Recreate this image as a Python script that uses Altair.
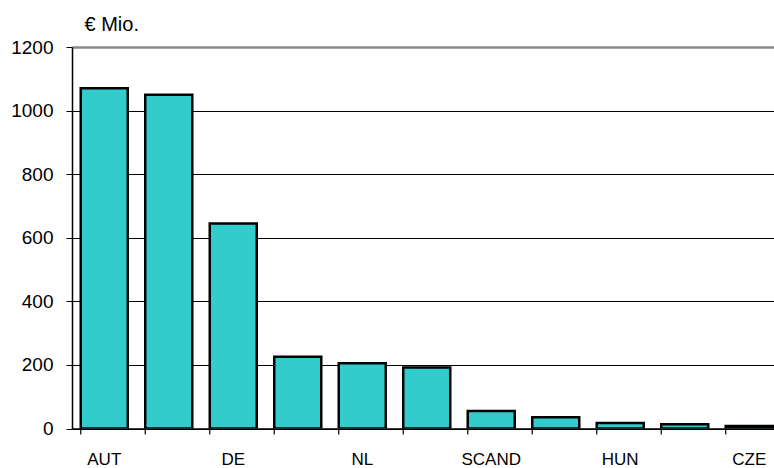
import json
import altair as alt
import pandas as pd

# Category labels as printed under the axis (every second slot is unlabeled)
labels = ["AUT", "", "DE", "", "NL", "", "SCAND", "", "HUN", "", "CZE"]
# Volumes in € million
values = [1070, 1050, 645, 226, 205, 192, 55, 35, 17, 13, 8]

df = pd.DataFrame({"pos": list(range(len(values))), "value": values})

FONT = "Liberation Sans"
W, H = 702, 381.5
STEP = 64.5
N = len(values)

x_scale = alt.Scale(
    range=[0, STEP * N],
    paddingInner=0.271,
    paddingOuter=0.1357,
)
label_expr = json.dumps(labels) + "[datum.value]"

bars = alt.Chart(df).mark_bar(
    fill="#33CCCC", stroke="black", strokeWidth=2.5, clip=True
).encode(
    x=alt.X(
        "pos:O",
        scale=x_scale,
        axis=alt.Axis(
            title=None,
            labelExpr=label_expr,
            labelAngle=0,
            labelFont=FONT,
            labelFontSize=17,
            labelColor="black",
            labelPadding=23,
            ticks=False,
            tickSize=0,
            domainColor="black",
            domainWidth=1.5,
            grid=False,
        ),
    ),
    y=alt.Y(
        "value:Q",
        scale=alt.Scale(domain=[0, 1200], nice=False),
        axis=alt.Axis(
            values=[0, 200, 400, 600, 800, 1000, 1200],
            format="d",
            title="€ Mio.",
            titleAngle=0,
            titleAlign="left",
            titleBaseline="alphabetic",
            titleX=12,
            titleY=-17,
            titleFont=FONT,
            titleFontSize=20,
            titleFontWeight="normal",
            titleColor="black",
            labelFont=FONT,
            labelFontSize=19,
            labelColor="black",
            labelPadding=13,
            tickSize=6,
            tickColor="black",
            domainColor="black",
            domainWidth=1.5,
            grid=True,
            gridColor={"condition": {"test": "datum.value == 1200", "value": "#888888"}, "value": "black"},
            gridWidth={"condition": {"test": "datum.value == 1200", "value": 2.5}, "value": 1},
        ),
    ),
)

# Category separators below the baseline, at the left edge of each band
ticks = alt.Chart(df).mark_rule(color="black", strokeWidth=1.2).encode(
    x=alt.X("pos:O", scale=x_scale, bandPosition=0),
    y=alt.value(H),
    y2=alt.value(H + 6),
)

chart = alt.layer(bars, ticks).properties(
    width=W,
    height=H,
    autosize=alt.AutoSizeParams(type="none"),
    padding={"left": 72, "top": 47, "right": 0, "bottom": 39.5},
).configure_view(stroke=None).configure(background="white")

chart.save("out.html", embed_options={"renderer": "svg", "actions": False})
